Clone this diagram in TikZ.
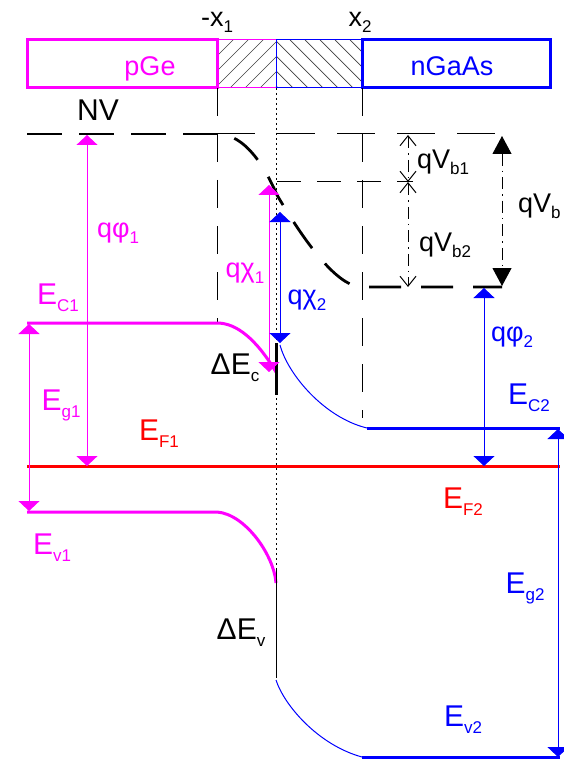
\documentclass[tikz,border=0pt]{standalone}
\usepackage{fontspec}
\setmainfont{Liberation Sans}
\usetikzlibrary{arrows.meta}
\definecolor{mg}{RGB}{255,0,255}
\definecolor{bl}{RGB}{0,0,255}
\definecolor{rd}{RGB}{255,0,0}
\newcommand{\LB}[2]{{\fontsize{30}{30}\selectfont #1}\raisebox{-7pt}{\fontsize{17}{17}\selectfont #2}}
\newcommand{\LQ}[2]{{\fontsize{27}{27}\selectfont #1}\raisebox{-6pt}{\fontsize{17}{17}\selectfont #2}}
\begin{document}
\begin{tikzpicture}[x=1pt,y=-1pt,
  thinl/.style={line width=1pt},
  thickl/.style={line width=3pt},
  dbl/.style={{Triangle[width=21pt,length=10pt]}-{Triangle[width=21pt,length=10pt]}},
  barb/.style={{Straight Barb[width=16pt,length=10pt]}-{Straight Barb[width=16pt,length=10pt]}},
  bigtri/.style={{Triangle[width=19pt,length=18pt]}-{Triangle[width=19pt,length=18pt]}},
  dashdot/.style={dash pattern=on 12pt off 5pt on 1.5pt off 5pt},
  txt/.style={inner sep=0pt}]
\useasboundingbox (0,0) rectangle (563,759);
\fill[white] (0,0) rectangle (563,759);
% ---------- bar ----------
\begin{scope}
  \clip (217,40) rectangle (276,88);
  \foreach \x in {140,155,...,290} \draw[black!75, line width=0.7pt] (\x,88) -- (\x+48,40);
\end{scope}
\begin{scope}
  \clip (276,40) rectangle (362,88);
  \foreach \x in {230,245,...,370} \draw[black!75, line width=0.7pt] (\x,40) -- (\x+48,88);
\end{scope}
\draw[mg, thinl] (217,40) -- (276,40) (217,88) -- (276,88);
\draw[bl, thinl] (276,40) -- (362,40) (276,88) -- (362,88) (276,40) -- (276,88);
\draw[mg, thickl] (27,40) rectangle (217,88);
\draw[bl, thickl] (362,40) rectangle (550,88);
\node[txt, mg] (pge) at (150,69) {\fontsize{27}{27}\selectfont pGe};
\node[txt, bl] (ngaas) at (452,66) {\fontsize{27}{27}\selectfont nGaAs};
\node[txt] (x1) at (217,22) {\LQ{-x}{1}};
\node[txt] (x2) at (360,22) {\LQ{x}{2}};
% ---------- reference lines ----------
\coordinate (jtop) at (276,88);
\coordinate (jbot) at (276,572);
\draw[thinl, dash pattern=on 2pt off 3pt] (jtop) -- (jbot);
\draw[thinl, dash pattern=on 28pt off 18pt] (217,88) -- (217,323);
\draw[thinl, dash pattern=on 28pt off 18pt] (362,88) -- (362,418);
\draw[thinl, dash pattern=on 38pt off 22pt] (217,134) -- (497,134);
\draw[thinl, dash pattern=on 24pt off 16pt] (277,182) -- (413,182);
% ---------- vacuum level NV ----------
\node[txt] (nv) at (98,110) {\fontsize{30}{30}\selectfont NV};
\draw[line width=2.8pt, dash pattern=on 35pt off 17pt] (27,134) -- (217,134);
\draw[line width=2.8pt, dash pattern=on 32pt off 20pt, dash phase=34pt]
  (217,134) .. controls (239.3,134) and (259.3,154.3) .. (277,195)
  .. controls (313.1,256.3) and (341.4,287) .. (362,287) -- (502,287);
% ---------- bands ----------
\draw[mg, thickl] (27,323) -- (217,323) .. controls (236.7,323) and (256.3,339.3) .. (276,372);
\draw[mg, thickl] (27,512) -- (217,512) .. controls (245,514) and (274,555) .. (276,583);
\draw[bl, thinl] (280,345) .. controls (288,375) and (325,418) .. (367,428);
\draw[bl, thickl] (367,428) -- (560,428);
\draw[bl, thinl] (276,680) .. controls (284,705) and (318,745) .. (362,757);
\draw[bl, thickl] (362,757) -- (560,757);
\draw[rd, thickl] (27,466) -- (560,466);
\draw[line width=3pt] (276,343) -- (276,395);
\draw[thinl] (276,570) -- (276,678);
% ---------- arrows ----------
\draw[mg, thinl, dbl] (87,135) -- (87,466);
\draw[mg, thinl, dbl] (29,324) -- (29,511);
\draw[mg, thinl, dbl] (269,185) -- (269,372);
\draw[bl, thinl, dbl] (280,212) -- (280,343);
\draw[bl, thinl, dbl] (484,288) -- (484,466);
\draw[bl, thinl, dbl] (558,429) -- (558,757);
\draw[thinl, dashdot, barb] (408,135) -- (408,182);
\draw[thinl, dashdot, barb] (408,182) -- (408,287);
\draw[thinl, dashdot, bigtri] (502,136) -- (502,286);
% ---------- labels ----------
\node[txt, mg] (lec1) at (58,298) {\LB{E}{C1}};
\node[txt, mg] (leg1) at (61,405) {\LB{E}{g1}};
\node[txt, rd] (lef1) at (159,434) {\LB{E}{F1}};
\node[txt, mg] (lev1) at (52,548) {\LB{E}{v1}};
\node[txt] (ldec) at (235,368) {\LB{ΔE}{c}};
\node[txt] (ldev) at (241,633) {\LB{ΔE}{v}};
\node[txt, rd] (lef2) at (463,502) {\LB{E}{F2}};
\node[txt, bl] (leg2) at (525,588) {\LB{E}{g2}};
\node[txt, bl] (lev2) at (463,720) {\LB{E}{v2}};
\node[txt, bl] (lec2) at (529,398) {\LB{E}{C2}};
\node[txt, mg] (lqphi1) at (118,233) {\LQ{qφ}{1}};
\node[txt, mg] (lqchi1) at (245,273) {\LQ{qχ}{1}};
\node[txt, bl] (lqchi2) at (307,300) {\LQ{qχ}{2}};
\node[txt, bl] (lqphi2) at (512,337) {\LQ{qφ}{2}};
\node[txt] (lqvb1) at (443,162) {\LQ{qV}{b1}};
\node[txt] (lqvb2) at (445,245) {\LQ{qV}{b2}};
\node[txt, anchor=west] (lqvb) at (518,206) {\LQ{qV}{b}};
\end{tikzpicture}
\end{document}
